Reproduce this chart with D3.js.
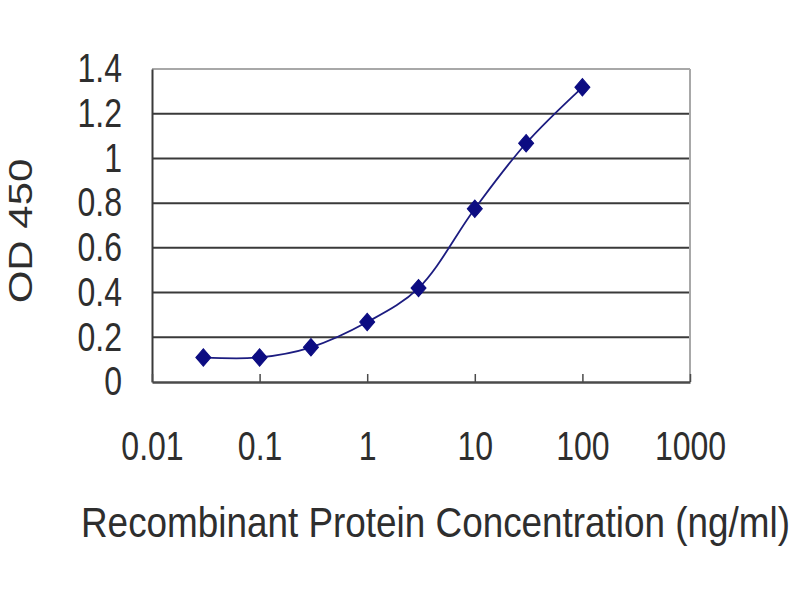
<!DOCTYPE html>
<html>
<head>
<meta charset="utf-8">
<script src="https://cdn.jsdelivr.net/npm/d3@7"></script>
<style>
  html, body { margin: 0; padding: 0; background: #fff; }
  svg { display: block; }
  text { font-family: "Liberation Sans", Arial, sans-serif; fill: #2e2e2e; }
</style>
</head>
<body>
<svg id="chart" width="800" height="600"></svg>
<script>
// ---- data ----
const concentrations = [0.03, 0.1, 0.3, 1, 3, 10, 30, 100];
const odValues = [0.11, 0.11, 0.155, 0.268, 0.42, 0.775, 1.068, 1.318];
const yTicks = [0, 0.2, 0.4, 0.6, 0.8, 1, 1.2, 1.4];
const yTickLabels = ["0", "0.2", "0.4", "0.6", "0.8", "1", "1.2", "1.4"];
const xTicks = [0.01, 0.1, 1, 10, 100, 1000];
const xTickLabels = ["0.01", "0.1", "1", "10", "100", "1000"];
const xTitle = "Recombinant Protein Concentration (ng/ml)";
const yTitle = "OD 450";

// ---- layout ----
const svg = d3.select("#chart");
const plotL = 152, plotR = 690, plotT = 69, plotB = 382;
const squash = 0.8; // horizontal compression of glyphs in the reference

const x = d3.scaleLog().domain([0.01, 1000]).range([plotL, plotR]);
const y = d3.scaleLinear().domain([0, 1.4]).range([plotB, plotT]);

svg.append("rect").attr("width", 800).attr("height", 600).attr("fill", "#fff");

// gridlines
svg.append("g").selectAll("line")
  .data(yTicks.filter(d => d > 0 && d < 1.4))
  .join("line")
  .attr("x1", plotL).attr("x2", plotR)
  .attr("y1", d => y(d)).attr("y2", d => y(d))
  .attr("stroke", "#3a3a3a").attr("stroke-width", 2);

// frame: top & right light grey
svg.append("line").attr("x1", plotL).attr("x2", plotR).attr("y1", y(1.4)).attr("y2", y(1.4))
  .attr("stroke", "#a8a8a8").attr("stroke-width", 2);
svg.append("line").attr("x1", plotR).attr("x2", plotR).attr("y1", y(1.4)).attr("y2", y(0))
  .attr("stroke", "#a8a8a8").attr("stroke-width", 2);

// y axis
const yAxis = svg.append("g").attr("transform", `translate(${plotL},0)`)
  .call(d3.axisLeft(y).tickValues(yTicks).tickSize(0).tickPadding(30 / squash)
    .tickFormat((d, i) => yTickLabels[i]));
yAxis.select(".domain").attr("stroke", "#3a3a3a").attr("stroke-width", 2);
yAxis.selectAll("text")
  .attr("font-size", 40).attr("fill", "#333")
  .attr("font-family", "'Liberation Sans', Arial, sans-serif")
  .attr("transform", `scale(${squash},1)`);

// x axis
const xAxis = svg.append("g").attr("transform", `translate(0,${plotB})`)
  .call(d3.axisBottom(x).tickValues(xTicks).tickSizeInner(-8).tickSizeOuter(0).tickPadding(50)
    .tickFormat((d, i) => xTickLabels[i]));
xAxis.select(".domain").attr("stroke", "#4a4a4a").attr("stroke-width", 2.5);
xAxis.selectAll(".tick line").attr("stroke", "#4a4a4a").attr("stroke-width", 1.5);
xAxis.selectAll("text")
  .attr("font-size", 40).attr("fill", "#333")
  .attr("font-family", "'Liberation Sans', Arial, sans-serif")
  .attr("transform", `scale(${squash},1)`);

// series
const pts = concentrations.map((c, i) => ({ c, v: odValues[i] }));
svg.append("path")
  .datum(pts)
  .attr("fill", "none")
  .attr("stroke", "#1c1c80")
  .attr("stroke-width", 1.8)
  .attr("d", d3.line().x(d => x(d.c)).y(d => y(d.v)).curve(d3.curveCatmullRom.alpha(0.5)));

svg.append("g").selectAll("path")
  .data(pts)
  .join("path")
  .attr("transform", d => `translate(${x(d.c)},${y(d.v)}) scale(0.95,1.1) rotate(45)`)
  .attr("d", d3.symbol(d3.symbolSquare).size(125)())
  .attr("fill", "#0c0c82")
  .attr("stroke", "#0c0c82")
  .attr("stroke-width", 1);

// titles
svg.append("text")
  .attr("transform", `translate(81,537) scale(${squash},1)`)
  .attr("font-size", 42)
  .attr("fill", "#333")
  .attr("textLength", 709 / squash)
  .attr("lengthAdjust", "spacingAndGlyphs")
  .text(xTitle);

svg.append("text")
  .attr("transform", `translate(32,231) rotate(-90) scale(1,${squash})`)
  .attr("text-anchor", "middle")
  .attr("font-size", 42)
  .attr("fill", "#333")
  .text(yTitle);
</script>
</body>
</html>
